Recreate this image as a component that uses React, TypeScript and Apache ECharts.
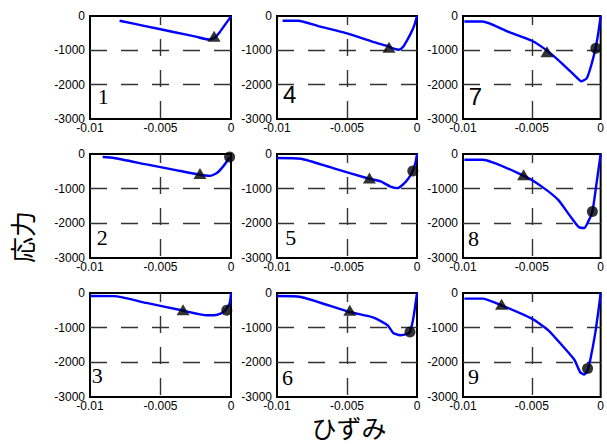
import React, { useEffect, useRef } from "react";
import * as echarts from "echarts";

const plotLabels = ["1", "2", "3", "4", "5", "6", "7", "8", "9"];
const xTitle = "ひずみ";
const yTitle = "応力";

const strain1 = [-0.0079, -0.006, -0.004, -0.0025, -0.0016, -0.0012, -0.0008, -0.0004, -0.0001, 0];
const stress1 = [-137, -300, -473, -602, -685, -640, -470, -240, -70, 0];
const strain2 = [-0.0091, -0.0083, -0.006, -0.004, -0.0022, -0.0015, -0.001, -0.00055, -0.0002, -0.0001];
const stress2 = [-87, -115, -299, -456, -597, -630, -548, -357, -160, -87];
const strain3 = [-0.01, -0.0083, -0.006, -0.0035, -0.0017, -0.0012, -0.0007, -0.0004, -0.0001, 0];
const stress3 = [-87, -90, -287, -499, -643, -643, -590, -500, -300, 0];
const strain4 = [-0.0096, -0.0085, -0.007, -0.005, -0.003, -0.002, -0.0016, -0.0013, -0.001, -0.0007, -0.0004, -0.0002, 0];
const stress4 = [-140, -140, -300, -505, -770, -893, -960, -985, -900, -700, -470, -280, 0];
const strain5 = [-0.01, -0.0083, -0.006, -0.0036, -0.0026, -0.0019, -0.0014, -0.001, -0.0006, -0.0003, -0.0001, 0];
const stress5 = [-115, -136, -408, -692, -790, -940, -985, -880, -700, -490, -230, 0];
const strain6 = [-0.01, -0.0083, -0.0048, -0.0031, -0.0021, -0.0017, -0.0012, -0.0007, -0.0005, -0.00025, 0];
const stress6 = [-87, -115, -548, -710, -932, -1154, -1220, -1180, -1125, -700, 0];
const strain7 = [-0.0099, -0.0086, -0.0067, -0.005, -0.0038, -0.0027, -0.0017, -0.0014, -0.001, -0.00064, -0.00035, -0.00016, 0];
const stress7 = [-160, -160, -461, -720, -1038, -1422, -1806, -1904, -1806, -1374, -894, -461, 0];
const strain8 = [-0.0099, -0.0086, -0.0056, -0.0043, -0.0031, -0.0022, -0.0016, -0.0012, -0.0009, -0.0006, -0.00033, -0.00016, 0];
const stress8 = [-164, -164, -626, -934, -1318, -1800, -2106, -2135, -1944, -1656, -934, -453, 0];
const strain9 = [-0.0099, -0.0086, -0.0072, -0.005, -0.0038, -0.0027, -0.0019, -0.0015, -0.0012, -0.00095, -0.00076, -0.0004, -0.00016, 0];
const stress9 = [-162, -162, -355, -740, -1076, -1558, -1933, -2279, -2354, -2226, -1942, -1171, -499, 0];

const triStrain = [-0.0012, -0.0022, -0.0034, -0.002, -0.0034, -0.0048, -0.0039, -0.0056, -0.0072];
const triStress = [-590, -560, -480, -912, -692, -499, -1040, -597, -326];
const circStrain = [null, -0.0001, -0.0003, null, -0.0003, -0.0005, -0.00035, -0.0006, -0.00095];
const circStress = [null, -87, -499, null, -490, -1125, -942, -1656, -2181];

const xTickValues = [-0.01, -0.005, 0];
const yTickValues = [-3000, -2000, -1000, 0];

const strains = [strain1, strain2, strain3, strain4, strain5, strain6, strain7, strain8, strain9];
const stresses = [stress1, stress2, stress3, stress4, stress5, stress6, stress7, stress8, stress9];

// layout
const colLeft = [90, 277, 463];
const colWidth = [141, 140, 141];
const rowTop = [16, 154, 293];
const rowHeight = [103, 104, 104];
const labelDx = [7.7, 6.7, 1.7, 6, 8.3, 5, 5.7, 5, 5];
const labelDy = [23, 21, 22, 25, 20.3, 20, 22.6, 19.3, 21];
const sansLabels = [false, false, false, true, false, false, true, false, false];
const SANS = "'Liberation Sans', Arial, Helvetica, sans-serif";
const SERIF = "'Liberation Serif', 'Times New Roman', serif";

export default function App() {
  const ref = useRef<HTMLDivElement>(null);
  useEffect(() => {
    if (!ref.current) return;
    const chart = echarts.init(ref.current, null, { renderer: "svg" });
    const grids: any[] = [];
    const xAxes: any[] = [];
    const yAxes: any[] = [];
    const series: any[] = [];
    const graphics: any[] = [];
    for (let k = 0; k < 9; k++) {
      const c = Math.floor(k / 3);
      const r = k % 3;
      grids.push({
        left: colLeft[c],
        top: rowTop[r],
        width: colWidth[c],
        height: rowHeight[r],
        show: true,
        borderColor: "#000",
        borderWidth: 2,
        backgroundColor: "transparent",
      });
      xAxes.push({
        gridIndex: k,
        type: "value",
        min: xTickValues[0],
        max: xTickValues[2],
        interval: 0.005,
        axisLine: { show: false },
        axisTick: { show: false },
        axisLabel: {
          color: "#000",
          fontSize: 12,
          fontFamily: SANS,
          margin: 3,
          formatter: (v: number) => String(+v.toFixed(4)),
        },
        splitLine: {
          show: true,
          showMinLine: false,
          showMaxLine: false,
          lineStyle: { color: "#333", width: 1.4, type: [17, 14], dashOffset: 8 },
        },
      });
      yAxes.push({
        gridIndex: k,
        type: "value",
        min: yTickValues[0],
        max: yTickValues[3],
        interval: 1000,
        axisLine: { show: false },
        axisTick: { show: false },
        axisLabel: {
          color: "#000",
          fontSize: 12,
          fontFamily: SANS,
          margin: 5,
          formatter: (v: number) => String(v),
        },
        splitLine: {
          show: true,
          showMinLine: false,
          showMaxLine: false,
          lineStyle: { color: "#333", width: 1.4, type: [17, 14] },
        },
      });
      series.push({
        type: "line",
        xAxisIndex: k,
        yAxisIndex: k,
        data: strains[k].map((s, i) => [s, stresses[k][i]]),
        showSymbol: false,
        smooth: 0.2,
        lineStyle: { color: "#0000ff", width: 2.4 },
        z: 3,
      });
      series.push({
        type: "scatter",
        xAxisIndex: k,
        yAxisIndex: k,
        data: [[triStrain[k], triStress[k]]],
        symbol: "triangle",
        symbolSize: [13, 11],
        itemStyle: { color: "#000" },
        z: 4,
      });
      if (circStrain[k] !== null) {
        series.push({
          type: "scatter",
          xAxisIndex: k,
          yAxisIndex: k,
          data: [[circStrain[k], circStress[k]]],
          symbol: "circle",
          symbolSize: 11,
          itemStyle: { color: "#000" },
          z: 4,
        });
      }
      graphics.push({
        type: "text",
        x: colLeft[c] + labelDx[k],
        y: rowTop[r] + rowHeight[r] - labelDy[k],
        style: {
          text: plotLabels[k],
          fill: "#000",
          fontSize: sansLabels[k] ? 24 : 22,
          fontFamily: sansLabels[k] ? SANS : SERIF,
          align: "left",
          verticalAlign: "middle",
        },
        z: 10,
      });
    }
    graphics.push({
      type: "text",
      x: 21,
      y: 237,
      rotation: Math.PI / 2,
      style: {
        text: yTitle,
        fill: "#000",
        fontSize: 26,
        fontFamily: "'Noto Sans CJK JP', sans-serif",
        align: "center",
        verticalAlign: "middle",
      },
    });
    graphics.push({
      type: "text",
      x: 349,
      y: 427,
      style: {
        text: xTitle,
        fill: "#000",
        fontSize: 25,
        fontFamily: "'Noto Sans CJK JP', sans-serif",
        align: "center",
        verticalAlign: "middle",
      },
    });
    chart.setOption({
      animation: false,
      backgroundColor: "#fff",
      grid: grids,
      xAxis: xAxes,
      yAxis: yAxes,
      series,
      graphic: graphics,
    });
    return () => chart.dispose();
  }, []);
  return (
    <div
      ref={ref}
      style={{ position: "fixed", left: 0, top: 0, width: 607, height: 444 }}
    />
  );
}
